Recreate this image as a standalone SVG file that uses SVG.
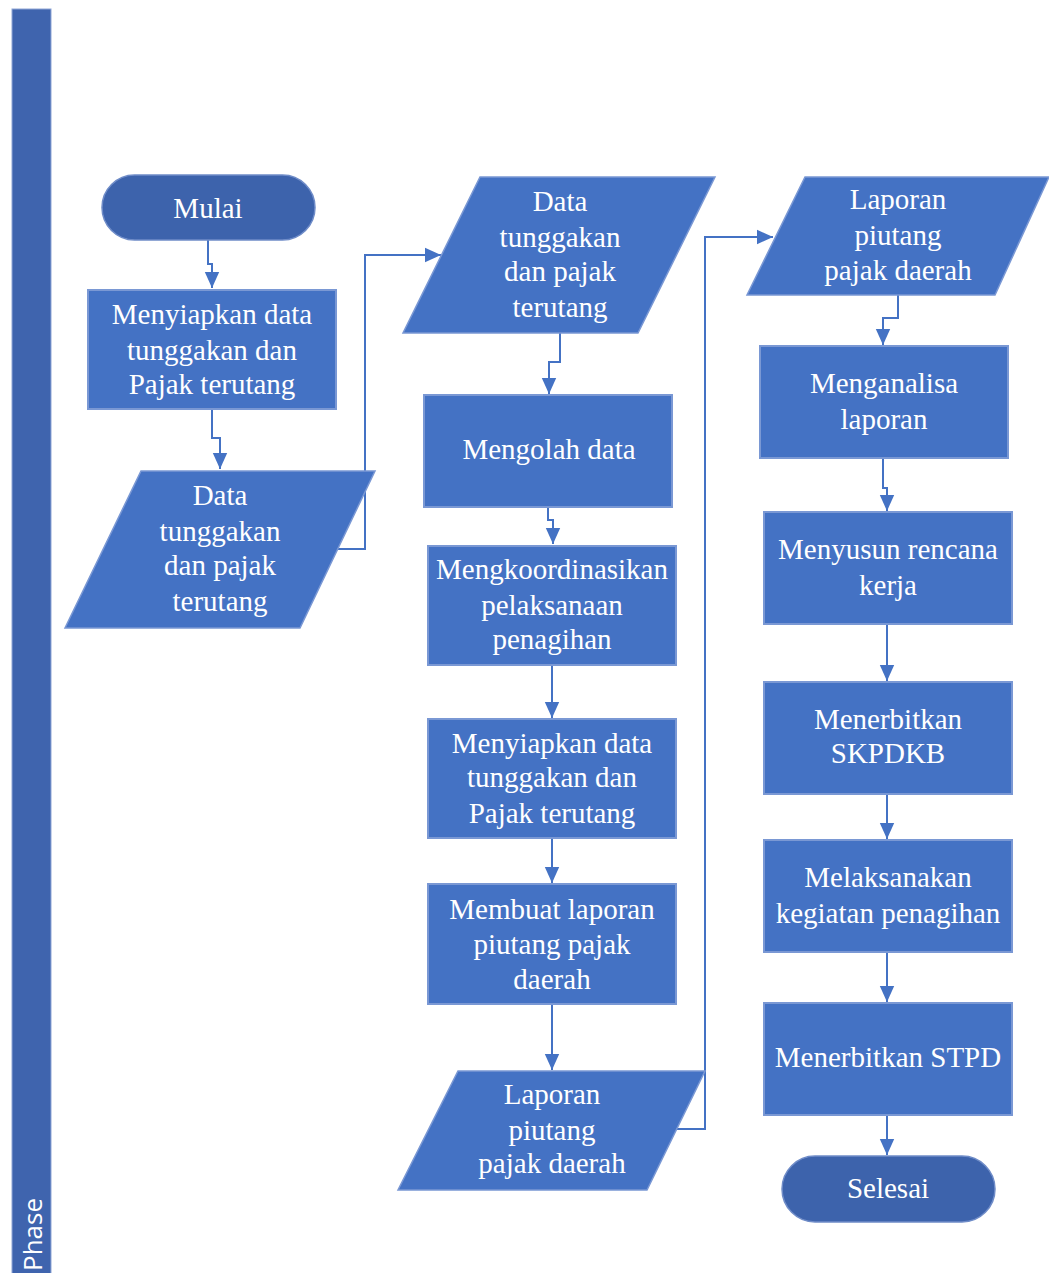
<svg xmlns="http://www.w3.org/2000/svg" width="1049" height="1273" viewBox="0 0 1049 1273">
  <style>
    .proc { fill: #4472C4; stroke: #7A98D4; stroke-width: 2; }
    .term { fill: #3D63AC; stroke: #6F8CC8; stroke-width: 1.5; }
    .io { fill: #4472C4; stroke: #7A98D4; stroke-width: 1.5; }
    .lbl { font-family: "Liberation Serif", "Times New Roman", serif; font-size: 29px; fill: #ffffff; text-anchor: middle; }
    .conn { fill: none; stroke: #4472C4; stroke-width: 2; }
    .phase { font-family: "Open Sans", "Noto Sans", sans-serif; font-size: 26px; fill: #ffffff; }
  </style>
  <defs>
    <marker id="arrowL" viewBox="0 0 10 10" refX="10" refY="5" markerWidth="16" markerHeight="16" markerUnits="userSpaceOnUse" orient="auto">
      <path d="M0,0.5 L10,5 L0,9.5 Z" fill="#4472C4"/>
    </marker>
  </defs>
  <rect width="1049" height="1273" fill="#ffffff"/>

  <!-- swimlane header -->
  <g id="lane">
    <rect x="12" y="9" width="39" height="1270" fill="#3F64AE" stroke="#8FA6D6" stroke-width="1"/>
    <text class="phase" transform="translate(42,1271) rotate(-90)">Phase</text>
  </g>

  <!-- connectors -->
  <g id="connectors">
    <path class="conn" d="M208,240 V264 H212 V288" marker-end="url(#arrowL)"/>
    <path class="conn" d="M212,409 V438 H220 V469" marker-end="url(#arrowL)"/>
    <path class="conn" d="M338,549 H365 V255 H441" marker-end="url(#arrowL)"/>
    <path class="conn" d="M560,333 V362 H549 V394" marker-end="url(#arrowL)"/>
    <path class="conn" d="M548,507 V520 H553 V544" marker-end="url(#arrowL)"/>
    <path class="conn" d="M552,665 V718" marker-end="url(#arrowL)"/>
    <path class="conn" d="M552,838 V883" marker-end="url(#arrowL)"/>
    <path class="conn" d="M552,1004 V1070" marker-end="url(#arrowL)"/>
    <path class="conn" d="M677,1129 H705 V237 H773" marker-end="url(#arrowL)"/>
    <path class="conn" d="M898,295 V318 H883 V345" marker-end="url(#arrowL)"/>
    <path class="conn" d="M883,458 V488 H887 V511" marker-end="url(#arrowL)"/>
    <path class="conn" d="M887,624 V681" marker-end="url(#arrowL)"/>
    <path class="conn" d="M887,794 V839" marker-end="url(#arrowL)"/>
    <path class="conn" d="M887,952 V1002" marker-end="url(#arrowL)"/>
    <path class="conn" d="M887,1115 V1155" marker-end="url(#arrowL)"/>
  </g>

  <!-- column 1 -->
  <g id="mulai">
    <rect class="term" x="102" y="175" width="213" height="65" rx="32.5"/>
    <text class="lbl" x="208" y="218">Mulai</text>
  </g>
  <g id="siapkan1">
    <rect class="proc" x="88" y="290" width="248" height="119"/>
    <text class="lbl" x="212" y="324">Menyiapkan data</text>
    <text class="lbl" x="212" y="360">tunggakan dan</text>
    <text class="lbl" x="212" y="394">Pajak terutang</text>
  </g>
  <g id="data1">
    <polygon class="io" points="141,471 375,471 300,628 65,628"/>
    <text class="lbl" x="220" y="505">Data</text>
    <text class="lbl" x="220" y="541">tunggakan</text>
    <text class="lbl" x="220" y="575">dan pajak</text>
    <text class="lbl" x="220" y="611">terutang</text>
  </g>

  <!-- column 2 -->
  <g id="data2">
    <polygon class="io" points="480,177 715,177 638,333 403,333"/>
    <text class="lbl" x="560" y="211">Data</text>
    <text class="lbl" x="560" y="247">tunggakan</text>
    <text class="lbl" x="560" y="281">dan pajak</text>
    <text class="lbl" x="560" y="317">terutang</text>
  </g>
  <g id="olah">
    <rect class="proc" x="424" y="395" width="248" height="112"/>
    <text class="lbl" x="549" y="459">Mengolah data</text>
  </g>
  <g id="koordinasi">
    <rect class="proc" x="428" y="546" width="248" height="119"/>
    <text class="lbl" x="552" y="579">Mengkoordinasikan</text>
    <text class="lbl" x="552" y="615">pelaksanaan</text>
    <text class="lbl" x="552" y="649">penagihan</text>
  </g>
  <g id="siapkan2">
    <rect class="proc" x="428" y="719" width="248" height="119"/>
    <text class="lbl" x="552" y="753">Menyiapkan data</text>
    <text class="lbl" x="552" y="787">tunggakan dan</text>
    <text class="lbl" x="552" y="823">Pajak terutang</text>
  </g>
  <g id="laporan1">
    <rect class="proc" x="428" y="884" width="248" height="120"/>
    <text class="lbl" x="552" y="919">Membuat laporan</text>
    <text class="lbl" x="552" y="954">piutang pajak</text>
    <text class="lbl" x="552" y="989">daerah</text>
  </g>
  <g id="laporanData1">
    <polygon class="io" points="458,1071 705,1071 647,1190 398,1190"/>
    <text class="lbl" x="552" y="1104">Laporan</text>
    <text class="lbl" x="552" y="1140">piutang</text>
    <text class="lbl" x="552" y="1173">pajak daerah</text>
  </g>

  <!-- column 3 -->
  <g id="laporanData2">
    <polygon class="io" points="805,177 1049,177 995,295 747,295"/>
    <text class="lbl" x="898" y="209">Laporan</text>
    <text class="lbl" x="898" y="245">piutang</text>
    <text class="lbl" x="898" y="280">pajak daerah</text>
  </g>
  <g id="analisa">
    <rect class="proc" x="760" y="346" width="248" height="112"/>
    <text class="lbl" x="884" y="393">Menganalisa</text>
    <text class="lbl" x="884" y="429">laporan</text>
  </g>
  <g id="rencana">
    <rect class="proc" x="764" y="512" width="248" height="112"/>
    <text class="lbl" x="888" y="559">Menyusun rencana</text>
    <text class="lbl" x="888" y="595">kerja</text>
  </g>
  <g id="skpdkb">
    <rect class="proc" x="764" y="682" width="248" height="112"/>
    <text class="lbl" x="888" y="729">Menerbitkan</text>
    <text class="lbl" x="888" y="763">SKPDKB</text>
  </g>
  <g id="kegiatan">
    <rect class="proc" x="764" y="840" width="248" height="112"/>
    <text class="lbl" x="888" y="887">Melaksanakan</text>
    <text class="lbl" x="888" y="923">kegiatan penagihan</text>
  </g>
  <g id="stpd">
    <rect class="proc" x="764" y="1003" width="248" height="112"/>
    <text class="lbl" x="888" y="1067">Menerbitkan STPD</text>
  </g>
  <g id="selesai">
    <rect class="term" x="782" y="1156" width="213" height="66" rx="33"/>
    <text class="lbl" x="888" y="1198">Selesai</text>
  </g>
</svg>
